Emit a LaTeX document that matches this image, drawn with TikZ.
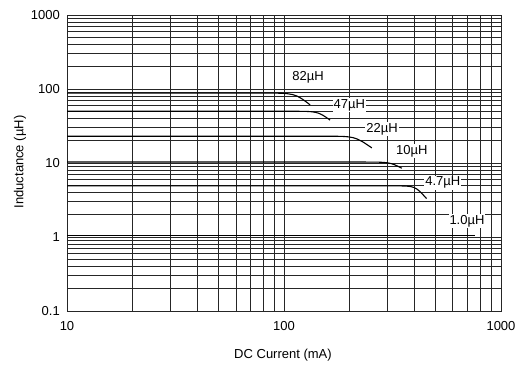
\documentclass[tikz,border=0pt]{standalone}
\usepackage{fontspec}
\setmainfont{Liberation Sans}
\tikzset{
  gridline/.style={black!85, line width=0.7pt},
  curve/.style={black, line width=1.1pt},
  tag/.style={fill=white, inner sep=1pt, font=\fontsize{13}{15}\selectfont},
  tick/.style={inner sep=0pt, font=\fontsize{13}{15}\selectfont},
}
\begin{document}
\begin{tikzpicture}[x=1pt, y=1pt,
  declare function={ix(\i)=67+217*log10(\i/10); ly(\l)=55+74*log10(\l/0.1);}]
\useasboundingbox (0,0) rectangle (525,366);
% grid
\foreach \d in {10,100} {
  \foreach \m in {1,...,9} {
    \draw[gridline] ({ix(\m*\d)},55) -- ({ix(\m*\d)},351);
  }
}
\foreach \d in {0.1,1,10,100} {
  \foreach \m in {1,...,9} {
    \draw[gridline] (67,{ly(\m*\d)}) -- (501,{ly(\m*\d)});
  }
}
\draw[gridline] (67,55) rectangle (501,351);
% curves
\draw[curve] ({ix(10)},{ly(88)})  -- ({ix(80)},{ly(88)})  .. controls ({ix(112)},{ly(88)})  .. ({ix(132)},{ly(61)});
\draw[curve] ({ix(10)},{ly(50)})  -- ({ix(106)},{ly(50)}) .. controls ({ix(143)},{ly(50)})  .. ({ix(163)},{ly(38)});
\draw[curve] ({ix(10)},{ly(23)})  -- ({ix(154)},{ly(23)}) .. controls ({ix(212)},{ly(23)})  .. ({ix(254)},{ly(16)});
\draw[curve] ({ix(10)},{ly(10.3)}) -- ({ix(224)},{ly(10.3)}) .. controls ({ix(307)},{ly(10.3)}) .. ({ix(349)},{ly(8.5)});
\draw[curve] ({ix(10)},{ly(4.9)}) -- ({ix(325)},{ly(4.9)}) .. controls ({ix(402)},{ly(4.9)}) .. ({ix(454)},{ly(3.3)});
\draw[curve] ({ix(10)},{ly(1.05)}) -- ({ix(757)},{ly(1.05)});
% curve labels
\node[tag] (l82) at ({ix(129)},{ly(145)}) {82µH};
\node[tag] (l47) at ({ix(200)},{ly(60.8)}) {47µH};
\node[tag] (l22) at ({ix(283)},{ly(28.8)}) {22µH};
\node[tag] (l10) at ({ix(388)},{ly(14.5)}) {10µH};
\node[tag] (l4)  at ({ix(539)},{ly(5.4)})  {4.7µH};
\node[tag] (l1)  at ({ix(697)},{ly(1.64)}) {1.0µH};
% axes
\foreach \v/\t in {0.1/0.1,1/1,10/10,100/100,1000/1000} {
  \node[tick, anchor=east] (y\t) at (60,{ly(\v)}) {\t};
}
\foreach \v in {10,100,1000} {
  \node[tick] (x\v) at ({ix(\v)},40) {\v};
}
\node[tick] (xlabel) at (283,11) {DC Current (mA)};
\node[tick, rotate=90] (ylabel) at (20,204) {Inductance (µH)};
\end{tikzpicture}
\end{document}
